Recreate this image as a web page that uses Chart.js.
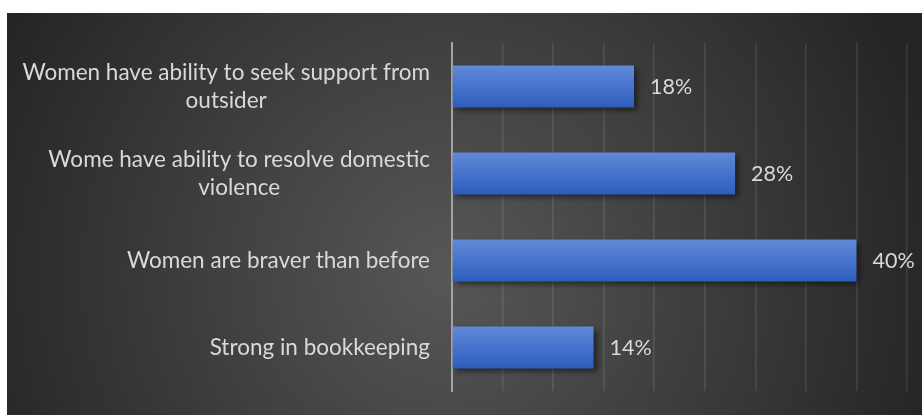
<!DOCTYPE html>
<html>
<head>
<meta charset="utf-8">
<script src="https://cdn.jsdelivr.net/npm/chart.js@4.4.1/dist/chart.umd.min.js"></script>
<style>
  html, body { margin: 0; padding: 0; background: #fff; }
  #wrap { position: absolute; left: 7px; top: 13px; width: 915px; height: 402px; }
</style>
</head>
<body>
<div id="wrap"><canvas id="chart" width="915" height="402"></canvas></div>
<script>
// categories (multi-line ones are arrays of lines) and their shares in %
const categories = [
  ['Women have ability to seek support from', 'outsider'],
  ['Wome have ability to resolve domestic', 'violence'],
  'Women are braver than before',
  'Strong in bookkeeping'
];
const shares = [18, 28, 40, 14];
const axisMax = 45;
const axisStep = 5;

const textColor = '#d9d9d9';
const labelFont = '22.5px Lato';
const valueFont = '21.5px Lato';

// dark radial backdrop behind everything
const backdrop = {
  id: 'backdrop',
  beforeDraw(chart) {
    const { ctx, width, height } = chart;
    const g = ctx.createRadialGradient(440, 260, 0, 440, 260, 500);
    g.addColorStop(0, '#575757');
    g.addColorStop(1, '#252525');
    ctx.save();
    ctx.fillStyle = g;
    ctx.fillRect(0, 0, width, height);
    ctx.restore();
  }
};

// soft drop shadow under the bars
const barShadow = {
  id: 'barShadow',
  beforeDatasetsDraw(chart) {
    const ctx = chart.ctx;
    ctx.save();
    ctx.shadowColor = 'rgba(0,0,0,0.55)';
    ctx.shadowBlur = 6;
    ctx.shadowOffsetX = 3;
    ctx.shadowOffsetY = 3;
  },
  afterDatasetsDraw(chart) {
    chart.ctx.restore();
  }
};

// category labels: block right-aligned to the axis, lines centred inside the block
const categoryLabels = {
  id: 'categoryLabels',
  afterDraw(chart) {
    const { ctx, scales } = chart;
    const right = chart.chartArea.left - 22;
    const lineHeight = 28;
    ctx.save();
    ctx.font = labelFont;
    ctx.fillStyle = textColor;
    ctx.textAlign = 'center';
    ctx.textBaseline = 'middle';
    categories.forEach((label, i) => {
      const lines = Array.isArray(label) ? label : [label];
      const widest = Math.max(...lines.map(l => ctx.measureText(l).width));
      const cx = right - widest / 2;
      const y0 = scales.y.getPixelForTick(i) - (lines.length - 1) * lineHeight / 2;
      lines.forEach((l, k) => ctx.fillText(l, cx, y0 + k * lineHeight));
    });
    ctx.restore();
  }
};

// percentage next to each bar end
const valueLabels = {
  id: 'valueLabels',
  afterDatasetsDraw(chart) {
    const ctx = chart.ctx;
    const meta = chart.getDatasetMeta(0);
    ctx.save();
    ctx.font = valueFont;
    ctx.fillStyle = textColor;
    ctx.textAlign = 'left';
    ctx.textBaseline = 'middle';
    meta.data.forEach((bar, i) => {
      ctx.fillText(shares[i] + '%', bar.x + 16, bar.y + 1);
    });
    ctx.restore();
  }
};

new Chart(document.getElementById('chart'), {
  type: 'bar',
  data: {
    labels: categories,
    datasets: [{
      data: shares,
      backgroundColor(c) {
        const chart = c.chart;
        if (!chart.chartArea || !chart.scales.y) return '#4472c4';
        const y = chart.scales.y.getPixelForValue(c.dataIndex);
        const g = chart.ctx.createLinearGradient(0, y - 21, 0, y + 21);
        g.addColorStop(0, '#6189d6');
        g.addColorStop(0.5, '#4673cc');
        g.addColorStop(1, '#2d5dbd');
        return g;
      },
      borderWidth: 0,
      barPercentage: 0.48,
      categoryPercentage: 1
    }]
  },
  options: {
    indexAxis: 'y',
    responsive: false,
    devicePixelRatio: 1,
    animation: false,
    layout: { padding: { left: 0, right: 15, top: 30, bottom: 24 } },
    plugins: {
      legend: { display: false },
      tooltip: { enabled: false }
    },
    scales: {
      x: {
        min: 0,
        max: axisMax,
        ticks: { display: false, stepSize: axisStep },
        grid: { color: 'rgba(255,255,255,0.11)', lineWidth: 1.5, drawTicks: false },
        border: { display: false },
        afterFit(scale) { scale.height = 0; }
      },
      y: {
        ticks: { display: false },
        grid: { display: false, drawTicks: false },
        border: { display: true, color: '#a3a3a3', width: 2 },
        afterFit(scale) { scale.width = 445; }
      }
    }
  },
  plugins: [backdrop, barShadow, categoryLabels, valueLabels]
});
</script>
</body>
</html>
